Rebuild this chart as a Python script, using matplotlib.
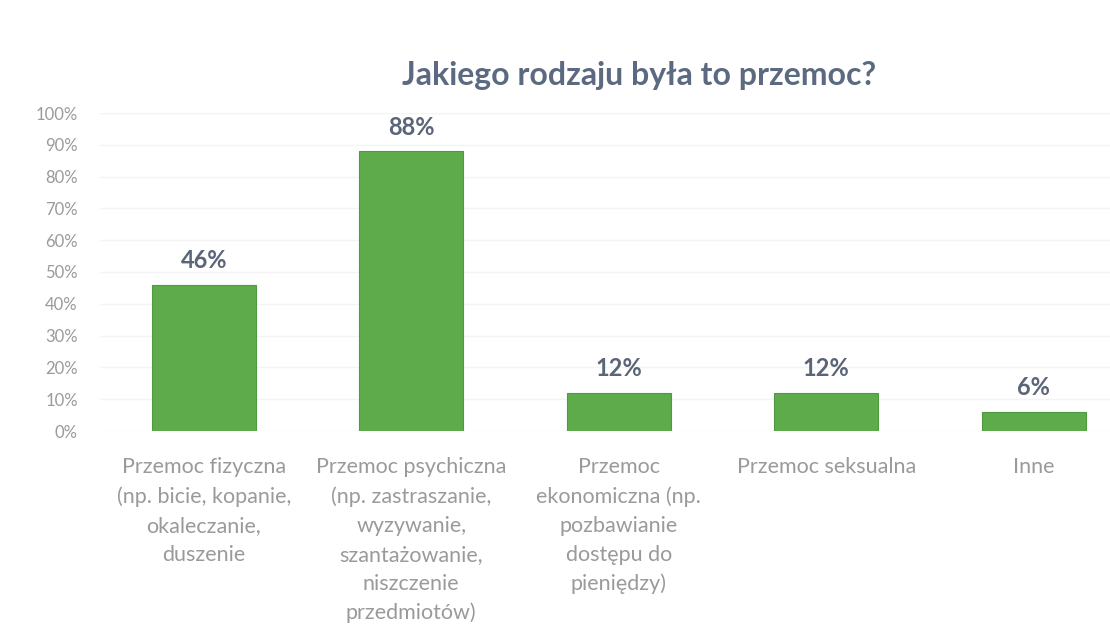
import matplotlib.pyplot as plt

categories = [
    "Przemoc fizyczna\n(np. bicie, kopanie,\nokaleczanie,\nduszenie",
    "Przemoc psychiczna\n(np. zastraszanie,\nwyzywanie,\nszantażowanie,\nniszczenie\nprzedmiotów)",
    "Przemoc\nekonomiczna (np.\npozbawianie\ndostępu do\npieniędzy)",
    "Przemoc seksualna",
    "Inne",
]
values = [46, 88, 12, 12, 6]
yticks = [0, 10, 20, 30, 40, 50, 60, 70, 80, 90, 100]

plt.rcParams['font.family'] = ['Lato', 'DejaVu Sans']

fig = plt.figure(figsize=(11.1, 6.31), dpi=100)
ax = fig.add_axes([100 / 1110, 200 / 631, 1010 / 1110, 318 / 631])

x = list(range(len(categories)))
bars = ax.bar(x, values, width=0.5, color="#5eab4c", edgecolor="#4f9a40", linewidth=0.8, zorder=3)

for xi, v in zip(x, values):
    ax.annotate(f"{v}%", (xi, v), xytext=(0, 9), textcoords="offset points",
                ha="center", va="bottom", fontsize=17, fontweight="bold", color="#5b6578")

ax.set_xlim(-0.5, -0.5 + 1010 / 207.5)
ax.set_ylim(0, 100)
ax.set_yticks(yticks)
ax.set_yticklabels([f"{t}%" for t in yticks], fontsize=12, color="#9a9a9a")
ax.set_xticks(x)
ax.set_xticklabels(categories, fontsize=15.5, color="#9a9a9a", linespacing=1.55, va="top")
ax.tick_params(axis="both", length=0)
ax.tick_params(axis="x", pad=19)
ax.tick_params(axis="y", pad=16)

ax.grid(axis="y", color="#f4f4f4", linewidth=1, zorder=0)
for s in ax.spines.values():
    s.set_visible(False)

fig.text(0.576, 0.88, "Jakiego rodzaju była to przemoc?", ha="center", va="center",
         fontsize=23, fontweight="bold", color="#5b6a80")

fig.savefig("out.png", dpi=100)
